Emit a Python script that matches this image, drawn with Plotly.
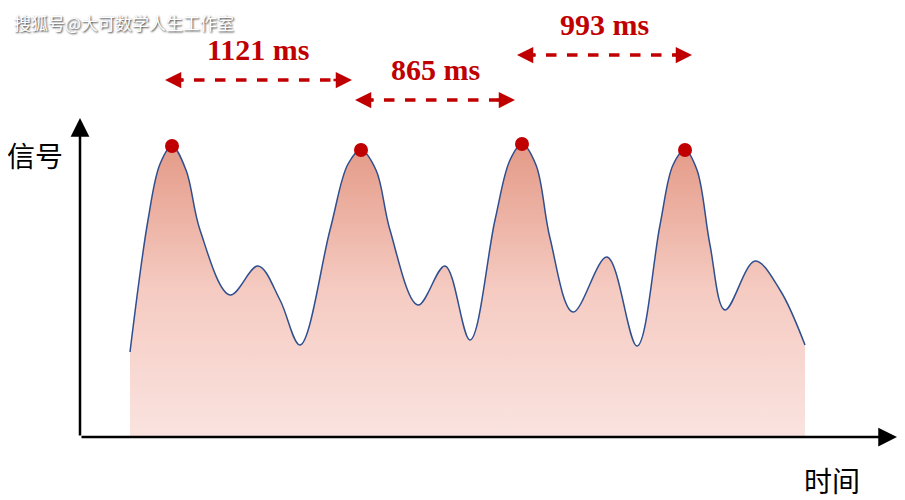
import plotly.graph_objects as go

# signal curve (time, signal)
t = [130, 148, 160, 172, 186, 200, 230, 258, 280, 300, 330, 348, 361, 376, 390, 418, 445, 470, 495, 510, 522, 536, 550, 573, 607, 637, 660, 673, 685, 697, 710, 725, 755, 780, 805]
s = [148, 280, 336, 354, 330, 270, 205, 234, 200, 155, 270, 336, 350, 330, 270, 195, 234, 160, 280, 340, 356, 335, 262, 188, 243, 154, 275, 335, 350, 330, 255, 190, 239, 210, 155]
peak_t = [172, 361, 522, 685]
peak_s = [354, 350, 356, 350]
intervals = ["1121 ms", "865 ms", "993 ms"]
arrow_x0 = [165, 355, 517]
arrow_x1 = [352, 515, 692]
arrow_y = [420, 400, 445]
base = 63
red = "#c00000"

fig = go.Figure()
fig.add_trace(go.Scatter(x=[t[0], t[-1]], y=[base, base], mode="lines", line=dict(width=0), hoverinfo="skip"))
fig.add_trace(go.Scatter(x=t, y=s, mode="lines", line=dict(color="#2f4f8f", width=1.5, shape="spline", smoothing=1.0),
                         fill="tonexty",
                         fillgradient=dict(type="vertical", start=base, stop=356,
                                           colorscale=[[0, "#fae3df"], [0.5, "#f5cbc2"], [1, "#e49a87"]])))
fig.add_trace(go.Scatter(x=peak_t, y=peak_s, mode="markers", marker=dict(color=red, size=14)))

ann = []
shapes = []
for lab, x0, x1, y in zip(intervals, arrow_x0, arrow_x1, arrow_y):
    shapes.append(dict(type="line", x0=x0 + 8, x1=x1 - 8, y0=y, y1=y, line=dict(color=red, width=3.5, dash="dash")))
    for a, b in ((x0, x1), (x1, x0)):
        ann.append(dict(x=a, y=y, ax=a + (20 if b > a else -20), ay=y, xref="x", yref="y", axref="x", ayref="y",
                        showarrow=True, arrowhead=2, arrowsize=1.3, arrowwidth=2.5, arrowcolor=red, text=""))
    ann.append(dict(x=(x0 + x1) / 2, y=y + 31, text="<b>%s</b>" % lab, showarrow=False,
                    font=dict(family="Liberation Serif", size=30, color=red)))
# axes
ann.append(dict(x=80, y=382, ax=80, ay=63, xref="x", yref="y", axref="x", ayref="y", showarrow=True,
                arrowhead=2, arrowsize=1.5, arrowwidth=2.5, arrowcolor="black", text=""))
ann.append(dict(x=897, y=63, ax=80, ay=63, xref="x", yref="y", axref="x", ayref="y", showarrow=True,
                arrowhead=2, arrowsize=1.5, arrowwidth=2.5, arrowcolor="black", text=""))
ann.append(dict(x=35, y=345, text="信号", showarrow=False, font=dict(family="Noto Sans CJK SC", size=28, color="black")))
ann.append(dict(x=832, y=20, text="时间", showarrow=False, font=dict(family="Noto Sans CJK SC", size=28, color="black")))
ann.append(dict(x=12, y=478, text="搜狐号@大可数学人生工作室", showarrow=False, xanchor="left",
                font=dict(family="Noto Sans CJK SC", size=17, color="white", shadow="1px 1px 2px #333")))

fig.update_layout(width=905, height=500, margin=dict(l=0, r=0, t=0, b=0), showlegend=False,
                  plot_bgcolor="white", paper_bgcolor="white", annotations=ann, shapes=shapes,
                  xaxis=dict(range=[8, 913], visible=False), yaxis=dict(range=[-8, 492], visible=False))
fig.write_html("out.html")
